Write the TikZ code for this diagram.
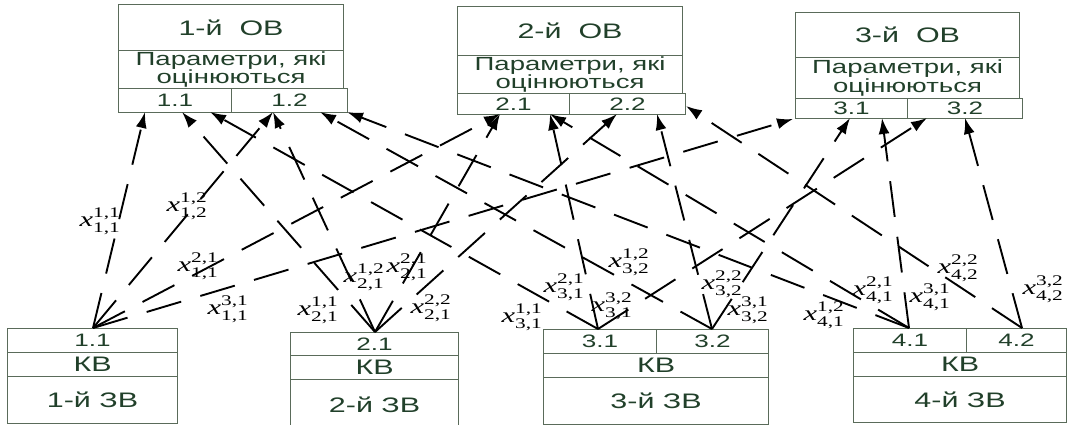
\documentclass[tikz,border=0pt]{standalone}
\usepackage{fontspec}
\usepackage{amsmath}
\setmainfont{Liberation Sans}[FakeStretch=1.45]
\newfontfamily\tms{Liberation Serif}[FakeStretch=1.45]
\usetikzlibrary{arrows.meta}
\definecolor{boxline}{HTML}{5A6B5A}
\definecolor{boxtext}{HTML}{21402A}
\newcommand\xlab[4]{$\text{\tms\itshape x}^{\text{\tms #1,#2}}_{\text{\tms #3,#4}}$}
\begin{document}
\begin{tikzpicture}[x=1pt,y=-1pt,
  cell/.style={draw=boxline, line width=1.1pt, text=boxtext, inner sep=0pt,
    anchor=north west, align=center, font=\fontsize{18}{19}\selectfont},
  par/.style={font=\fontsize{19}{18.5}\selectfont},
  big/.style={font=\fontsize{21}{24}\selectfont},
  arr/.style={draw=black, line width=1.9pt, dash pattern=on 36pt off 20pt,
    -{Latex[length=16pt,width=11pt]}},
  lab/.style={inner sep=0pt, font=\fontsize{21}{24}\selectfont}]
\useasboundingbox (0,0) rectangle (1070,425);
% ---------- top boxes ----------
\node[cell, big, minimum width=225pt, minimum height=46pt] (ov1t) at (118,4) {1-й~~ОВ};
\node[cell, par, minimum width=225pt, minimum height=38pt] (ov1p) at (118,50) {Параметри, які\\оцінюються};
\node[cell, minimum width=113pt, minimum height=24pt] (ov11) at (118,88) {1.1};
\node[cell, minimum width=116pt, minimum height=24pt] (ov12) at (231,88) {1.2};

\node[cell, big, minimum width=225pt, minimum height=49pt] (ov2t) at (457,6) {2-й~~ОВ};
\node[cell, par, minimum width=225pt, minimum height=38pt] (ov2p) at (457,55) {Параметри, які\\оцінюються};
\node[cell, minimum width=112pt, minimum height=21pt] (ov21) at (457,93) {2.1};
\node[cell, minimum width=116pt, minimum height=21pt] (ov22) at (569,93) {2.2};

\node[cell, big, minimum width=224pt, minimum height=45pt] (ov3t) at (795,12) {3-й~~ОВ};
\node[cell, par, minimum width=224pt, minimum height=41pt] (ov3p) at (795,57) {Параметри, які\\оцінюються};
\node[cell, minimum width=112pt, minimum height=20pt] (ov31) at (795,98) {3.1};
\node[cell, minimum width=115pt, minimum height=20pt] (ov32) at (907,98) {3.2};
% ---------- bottom boxes ----------
\node[cell, minimum width=170pt, minimum height=24pt] (zv1a) at (7,328) {1.1};
\node[cell, big, minimum width=170pt, minimum height=24pt] (zv1k) at (7,352) {КВ};
\node[cell, big, minimum width=170pt, minimum height=47pt] (zv1n) at (7,376) {1-й ЗВ};

\node[cell, minimum width=168pt, minimum height=23pt] (zv2a) at (290,332) {2.1};
\node[cell, big, minimum width=168pt, minimum height=24pt] (zv2k) at (290,355) {КВ};
\node[cell, big, minimum width=168pt, minimum height=50pt] (zv2n) at (290,379) {2-й ЗВ};

\node[cell, minimum width=113pt, minimum height=24pt] (zv3a) at (543,329) {3.1};
\node[cell, minimum width=112pt, minimum height=24pt] (zv3b) at (656,329) {3.2};
\node[cell, big, minimum width=225pt, minimum height=24pt] (zv3k) at (543,353) {КВ};
\node[cell, big, minimum width=225pt, minimum height=47pt] (zv3n) at (543,377) {3-й ЗВ};

\node[cell, minimum width=113pt, minimum height=24pt] (zv4a) at (853,328) {4.1};
\node[cell, minimum width=100pt, minimum height=24pt] (zv4b) at (966,328) {4.2};
\node[cell, big, minimum width=213pt, minimum height=24pt] (zv4k) at (853,352) {КВ};
\node[cell, big, minimum width=213pt, minimum height=46pt] (zv4n) at (853,376) {4-й ЗВ};
% ---------- connector end points ----------
\coordinate (s1) at (93,328);
\coordinate (s2) at (375,332);
\coordinate (s31) at (598,329);
\coordinate (s32) at (712,329);
\coordinate (s41) at (909,328);
\coordinate (s42) at (1022,328);
\coordinate (t11a) at (145,112);
\coordinate (t11b) at (182,112);
\coordinate (t11c) at (210,112);
\coordinate (t12a) at (273,112);
\coordinate (t12b) at (320,112);
\coordinate (t12c) at (347,112);
\coordinate (t21a) at (500,114);
\coordinate (t21b) at (550,114);
\coordinate (t22a) at (617,114);
\coordinate (t22b) at (657,114);
\coordinate (t22c) at (686,106);
\coordinate (t31a) at (793,119);
\coordinate (t31b) at (850,118);
\coordinate (t31c) at (882,118);
\coordinate (t32a) at (927,118);
\coordinate (t32b) at (965,118);
% ---------- connectors ----------
\draw[arr] (s1) -- (t11a);
\draw[arr] (s1) -- (t12a);
\draw[arr] (s1) -- (t21a);
\draw[arr] (s1) -- (t31a);
\draw[arr] (s2) -- (t11b);
\draw[arr] (s2) -- (t12a);
\draw[arr] (s2) -- (t21a);
\draw[arr] (s2) -- (t22a);
\draw[arr] (s31) -- (t11c);
\draw[arr] (s31) -- (t21b);
\draw[arr] (s31) -- (t32a);
\draw[arr] (s32) -- (t12b);
\draw[arr] (s32) -- (t22b);
\draw[arr] (s32) -- (t31b);
\draw[arr] (s41) -- (t12c);
\draw[arr] (s41) -- (t21b);
\draw[arr] (s41) -- (t31c);
\draw[arr] (s42) -- (t22c);
\draw[arr] (s42) -- (t32b);
% ---------- labels ----------
\node[lab] (l1) at (100,221) {\xlab{1}{1}{1}{1}};
\node[lab] (l2) at (187,206) {\xlab{1}{2}{1}{2}};
\node[lab] (l3) at (198,266) {\xlab{2}{1}{1}{1}};
\node[lab] (l4) at (228,309) {\xlab{3}{1}{1}{1}};
\node[lab] (l5) at (318,310) {\xlab{1}{1}{2}{1}};
\node[lab] (l6) at (364,277) {\xlab{1}{2}{2}{1}};
\node[lab] (l7) at (407,267) {\xlab{2}{1}{2}{1}};
\node[lab] (l8) at (431,308) {\xlab{2}{2}{2}{1}};
\node[lab] (l9) at (522,317) {\xlab{1}{1}{3}{1}};
\node[lab] (l10) at (564,287) {\xlab{2}{1}{3}{1}};
\node[lab] (l11) at (612,306) {\xlab{3}{2}{3}{1}};
\node[lab] (l12) at (629,262) {\xlab{1}{2}{3}{2}};
\node[lab] (l13) at (722,284) {\xlab{2}{2}{3}{2}};
\node[lab] (l14) at (748,310) {\xlab{3}{1}{3}{2}};
\node[lab] (l15) at (824,315) {\xlab{1}{2}{4}{1}};
\node[lab] (l16) at (873,290) {\xlab{2}{1}{4}{1}};
\node[lab] (l17) at (930,297) {\xlab{3}{1}{4}{1}};
\node[lab] (l18) at (958,268) {\xlab{2}{2}{4}{2}};
\node[lab] (l19) at (1043,289) {\xlab{3}{2}{4}{2}};
\end{tikzpicture}
\end{document}
